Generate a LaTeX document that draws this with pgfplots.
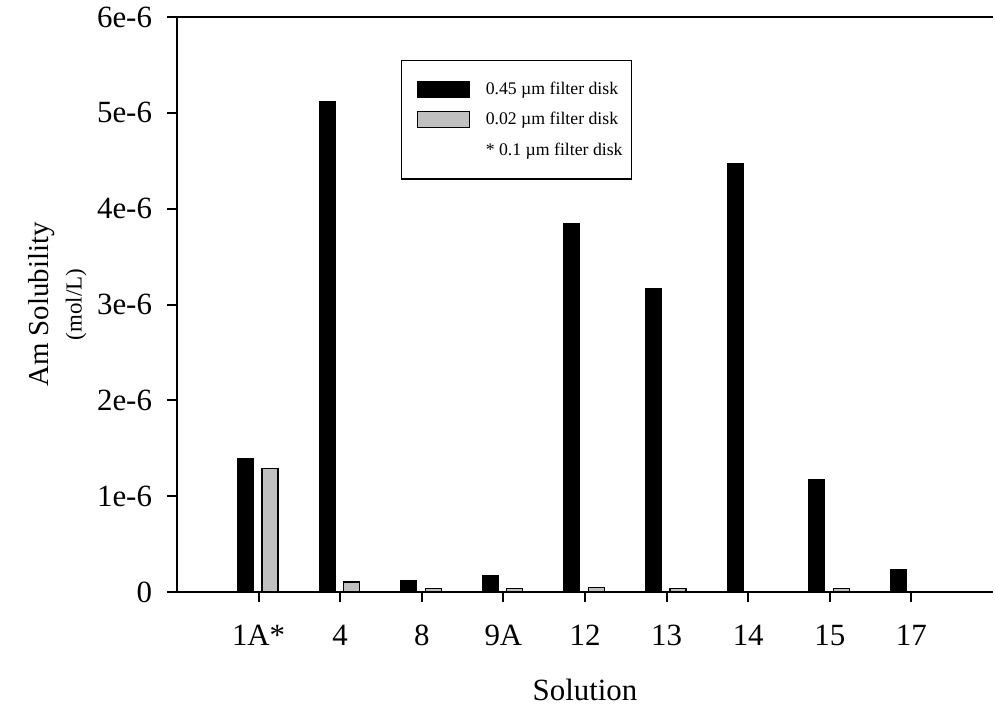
\documentclass[border=0pt]{standalone}
\usepackage{pgfplots}
\pgfplotsset{compat=1.18}
\usepackage{fontspec}
\setmainfont{Liberation Serif}
\definecolor{bargray}{RGB}{192,192,192}
\pgfplotsset{
  mylegend/.style={legend image code/.code={\path (0bp,0bp); \draw[##1, line width=0.6bp] (5bp,-4bp) rectangle (31bp,4bp); \path (37bp,0bp);}}
}
\begin{document}
\begin{tikzpicture}
\path[use as bounding box] (-88.5bp,-59bp) rectangle (409bp,296bp);
\begin{axis}[
  scale only axis, width=408bp, height=287.5bp,
  at={(0,0)}, anchor=south west,
  xmin=-1, xmax=9, ymin=0, ymax=6e-6,
  axis x line=box, axis y line=left,
  axis line style={-, line width=1bp},
  tick pos=left, tick align=outside, major tick length=5bp,
  tick style={line width=1bp, black},
  xtick={0,1,2,3,4,5,6,7,8},
  xticklabels={1A*,4,8,9A,12,13,14,15,17},
  ytick={0,1e-6,2e-6,3e-6,4e-6,5e-6,6e-6},
  yticklabels={0,1e-6,2e-6,3e-6,4e-6,5e-6,6e-6},
  scaled y ticks=false,
  tick label style={font=\fontsize{15.5}{18}\selectfont},
  xticklabel style={yshift=-8bp},
  yticklabel style={xshift=-4bp},
  xlabel={Solution},
  xlabel style={font=\fontsize{15.5}{18}\selectfont, at={(axis description cs:0.5,0)}, anchor=center, yshift=-49bp},
  ylabel={Am Solubility\\[-1bp]{\fontsize{11.5}{13}\selectfont(mol/L)}},
  ylabel style={font=\fontsize{14.5}{17.5}\selectfont, align=center, at={(axis description cs:0,0.5)}, anchor=center, yshift=59.75bp},
  legend style={at={(0.2745,0.925)}, anchor=north west,
    font=\fontsize{8.9}{10.5}\selectfont, draw=black, line width=0.6bp,
    inner xsep=2.5bp, inner ysep=8.5bp, row sep=3.5bp},
  legend cell align=left,
]
\addplot[ybar, bar width=0.196, bar shift=-0.16, fill=black, draw=black, line width=0.5bp, mylegend] coordinates {
  (0,1.39e-6) (1,5.12e-6) (2,1.2e-7) (3,1.75e-7) (4,3.85e-6) (5,3.17e-6) (6,4.47e-6) (7,1.17e-6) (8,2.3e-7)
};
\addlegendentry{0.45 µm filter disk}
\addplot[ybar, bar width=0.196, bar shift=0.14, fill=bargray, draw=black, line width=0.6bp, mylegend] coordinates {
  (0,1.29e-6) (1,1.05e-7) (2,3.5e-8) (3,4e-8) (4,5e-8) (5,3.5e-8) (7,4e-8)
};
\addlegendentry{0.02 µm filter disk}
\addlegendimage{empty legend}
\addlegendentry{* 0.1 µm filter disk}
\end{axis}
\end{tikzpicture}
\end{document}
